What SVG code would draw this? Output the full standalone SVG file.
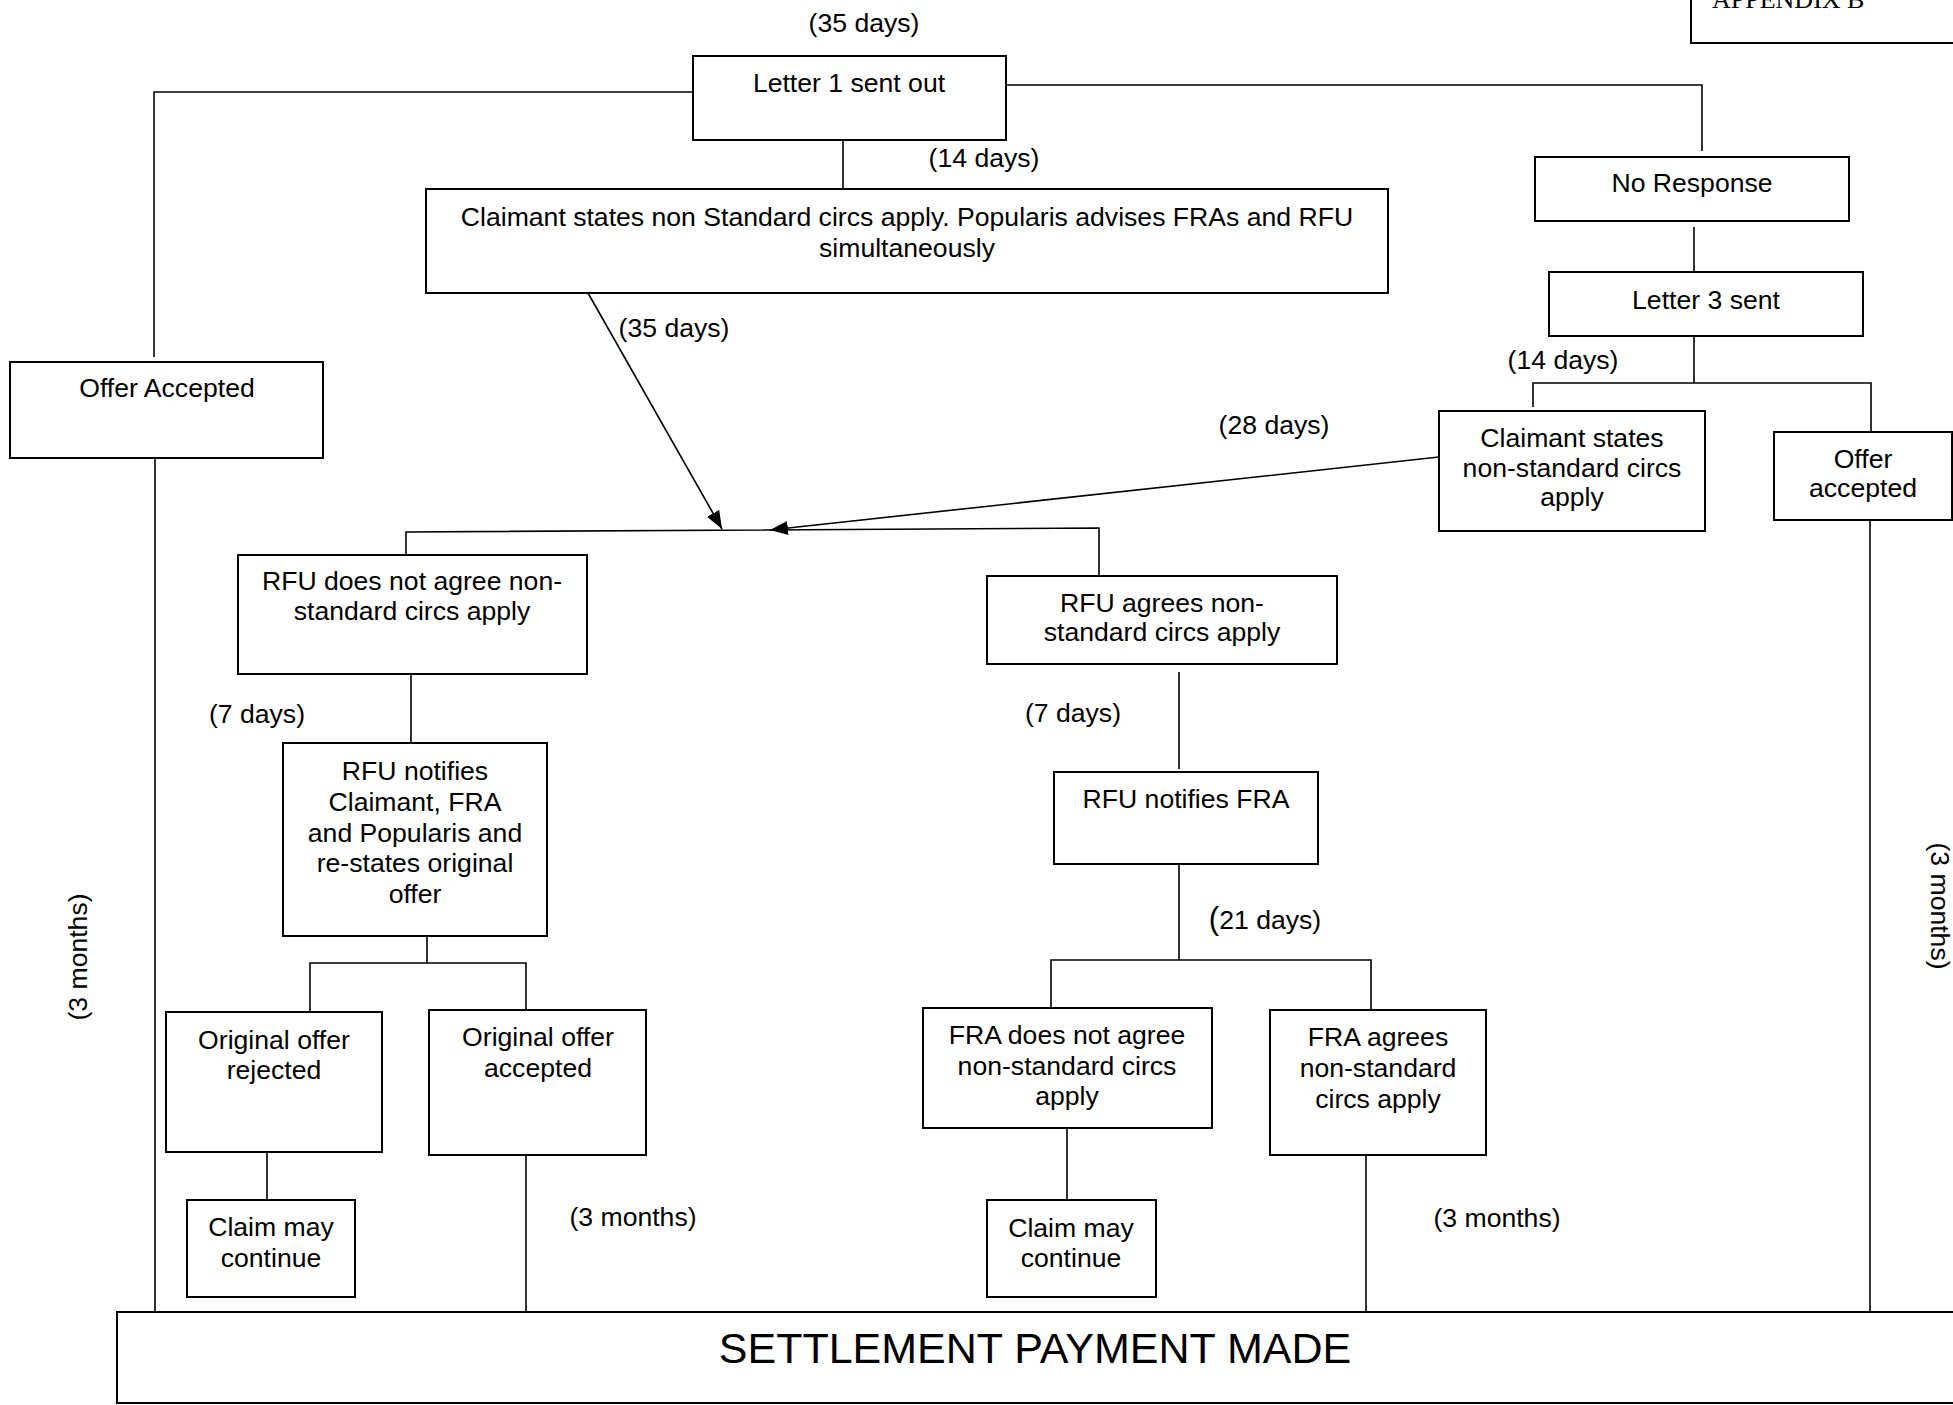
<svg xmlns="http://www.w3.org/2000/svg" width="1953" height="1405" viewBox="0 0 1953 1405">
<style>
.box{fill:#fff;stroke:#000;stroke-width:2}
.ln{fill:none;stroke:#000;stroke-width:1.6}
text{font-family:"Liberation Sans",Arial,sans-serif;font-size:26.6px;fill:#000}
.c{text-anchor:middle}
</style>
<defs>
<marker id="ah" viewBox="0 0 18 14" refX="18" refY="7" markerWidth="18" markerHeight="14" markerUnits="userSpaceOnUse" orient="auto">
<path d="M0,0 L18,7 L0,14 Z" fill="#000"/>
</marker>
</defs>
<rect width="1953" height="1405" fill="#fff"/>

<g id="connectors">
<polyline class="ln" points="693,92 154,92 154,357"/>
<line class="ln" x1="155" y1="458" x2="155" y2="1312"/>
<polyline class="ln" points="1006,85 1702,85 1702,151"/>
<line class="ln" x1="843" y1="140" x2="843" y2="189"/>
<line class="ln" x1="1694" y1="227" x2="1694" y2="272"/>
<polyline class="ln" points="1694,336 1694,383"/>
<polyline class="ln" points="1533,407 1533,383 1871,383 1871,431"/>
<line class="ln" x1="1870" y1="520" x2="1870" y2="1312"/>
<line class="ln" x1="588" y1="293" x2="722" y2="529" marker-end="url(#ah)"/>
<line class="ln" x1="1439" y1="457" x2="770" y2="530" stroke-width="2" marker-end="url(#ah)"/>
<polyline class="ln" points="406,554 406,532 1099,528 1099,576"/>
<line class="ln" x1="411" y1="672" x2="411" y2="743"/>
<line class="ln" x1="427" y1="936" x2="427" y2="963"/>
<polyline class="ln" points="310,1012 310,963 526,963 526,1010"/>
<line class="ln" x1="267" y1="1152" x2="267" y2="1200"/>
<line class="ln" x1="526" y1="1155" x2="526" y2="1312"/>
<line class="ln" x1="1179" y1="672" x2="1179" y2="769"/>
<line class="ln" x1="1179" y1="864" x2="1179" y2="960"/>
<polyline class="ln" points="1051,1008 1051,960 1371,960 1371,1010"/>
<line class="ln" x1="1067" y1="1128" x2="1067" y2="1200"/>
<line class="ln" x1="1366" y1="1155" x2="1366" y2="1312"/>
</g>

<g id="labels">
<text class="c" x="864" y="32">(35 days)</text>
<text class="c" x="984" y="167">(14 days)</text>
<text class="c" x="674" y="337">(35 days)</text>
<text class="c" x="1563" y="369">(14 days)</text>
<text class="c" x="1274" y="434">(28 days)</text>
<text class="c" x="257" y="723">(7 days)</text>
<text class="c" x="1073" y="722">(7 days)</text>
<text class="c" x="1265" y="929"><tspan font-size="31">(</tspan>21 days)</text>
<text class="c" x="633" y="1226">(3 months)</text>
<text class="c" x="1497" y="1227">(3 months)</text>
<text class="c" transform="translate(87,957) rotate(-90)">(3 months)</text>
<text class="c" transform="translate(1931,906) rotate(90)">(3 months)</text>
</g>

<g id="appendix">
<rect class="box" x="1691" y="-10" width="280" height="53"/>
<text x="1712" y="8" style="font-family:'Liberation Serif','Times New Roman',serif;font-size:26px">APPENDIX B</text>
</g>

<g id="letter1">
<rect class="box" x="693" y="56" width="313" height="84"/>
<text class="c" x="849" y="92">Letter 1 sent out</text>
</g>

<g id="claimant-nonstandard">
<rect class="box" x="426" y="189" width="962" height="104"/>
<text class="c" x="907" y="226">Claimant states non Standard circs apply. Popularis advises FRAs and RFU</text>
<text class="c" x="907" y="257">simultaneously</text>
</g>

<g id="no-response">
<rect class="box" x="1535" y="157" width="314" height="64"/>
<text class="c" x="1692" y="192">No Response</text>
</g>

<g id="letter3">
<rect class="box" x="1549" y="272" width="314" height="64"/>
<text class="c" x="1706" y="309">Letter 3 sent</text>
</g>

<g id="offer-accepted-left">
<rect class="box" x="10" y="362" width="313" height="96"/>
<text class="c" x="167" y="397">Offer Accepted</text>
</g>

<g id="claimant-states-right">
<rect class="box" x="1439" y="411" width="266" height="120"/>
<text class="c" x="1572" y="447">Claimant states</text>
<text class="c" x="1572" y="477">non-standard circs</text>
<text class="c" x="1572" y="506">apply</text>
</g>

<g id="offer-accepted-right">
<rect class="box" x="1774" y="432" width="178" height="88"/>
<text class="c" x="1863" y="468">Offer</text>
<text class="c" x="1863" y="497">accepted</text>
</g>

<g id="rfu-not-agree">
<rect class="box" x="238" y="555" width="349" height="119"/>
<text class="c" x="412" y="590">RFU does not agree non-</text>
<text class="c" x="412" y="620">standard circs apply</text>
</g>

<g id="rfu-agrees">
<rect class="box" x="987" y="576" width="350" height="88"/>
<text class="c" x="1162" y="612">RFU agrees non-</text>
<text class="c" x="1162" y="641">standard circs apply</text>
</g>

<g id="rfu-notifies-claimant">
<rect class="box" x="283" y="743" width="264" height="193"/>
<text class="c" x="415" y="780">RFU notifies</text>
<text class="c" x="415" y="811">Claimant, FRA</text>
<text class="c" x="415" y="842">and Popularis and</text>
<text class="c" x="415" y="872">re-states original</text>
<text class="c" x="415" y="903">offer</text>
</g>

<g id="rfu-notifies-fra">
<rect class="box" x="1054" y="772" width="264" height="92"/>
<text class="c" x="1186" y="808">RFU notifies FRA</text>
</g>

<g id="original-rejected">
<rect class="box" x="166" y="1012" width="216" height="140"/>
<text class="c" x="274" y="1049">Original offer</text>
<text class="c" x="274" y="1079">rejected</text>
</g>

<g id="original-accepted">
<rect class="box" x="429" y="1010" width="217" height="145"/>
<text class="c" x="538" y="1046">Original offer</text>
<text class="c" x="538" y="1077">accepted</text>
</g>

<g id="fra-not-agree">
<rect class="box" x="923" y="1008" width="289" height="120"/>
<text class="c" x="1067" y="1044">FRA does not agree</text>
<text class="c" x="1067" y="1075">non-standard circs</text>
<text class="c" x="1067" y="1105">apply</text>
</g>

<g id="fra-agrees">
<rect class="box" x="1270" y="1010" width="216" height="145"/>
<text class="c" x="1378" y="1046">FRA agrees</text>
<text class="c" x="1378" y="1077">non-standard</text>
<text class="c" x="1378" y="1108">circs apply</text>
</g>

<g id="claim-continue-1">
<rect class="box" x="187" y="1200" width="168" height="97"/>
<text class="c" x="271" y="1236">Claim may</text>
<text class="c" x="271" y="1267">continue</text>
</g>

<g id="claim-continue-2">
<rect class="box" x="987" y="1200" width="169" height="97"/>
<text class="c" x="1071" y="1237">Claim may</text>
<text class="c" x="1071" y="1267">continue</text>
</g>

<g id="settlement">
<rect class="box" x="117" y="1312" width="1850" height="91"/>
<text class="c" x="1035" y="1363" style="font-size:43px">SETTLEMENT PAYMENT MADE</text>
</g>
</svg>
